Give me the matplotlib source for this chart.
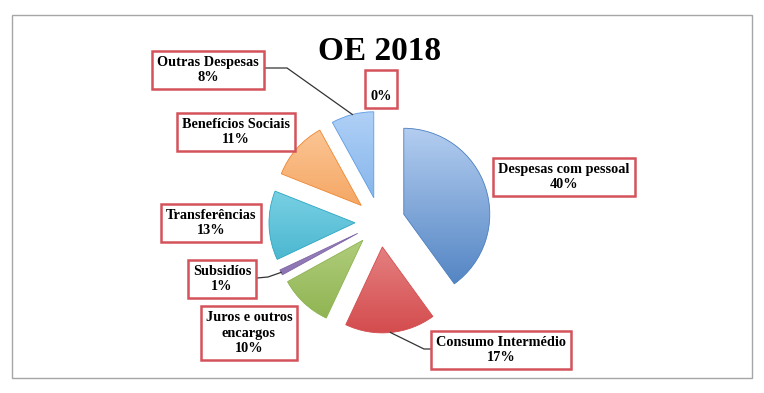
import numpy as np
import matplotlib
matplotlib.use("Agg")
import matplotlib.pyplot as plt
from matplotlib.colors import to_rgb
from matplotlib.patches import Rectangle

# data
categories = ["Despesas com pessoal", "Consumo Intermédio", "Juros e outros\nencargos",
              "Subsidíos", "Transferências", "Benefícios Sociais", "Outras Despesas", ""]
shares = [40, 17, 10, 1, 13, 11, 8, 0]

# gradient colours per slice (top, bottom)
TOP = ["#b3cdf0", "#f6b4b2", "#d4e8a8", "#b7a5d3", "#9ce3f3", "#fcc99a", "#afd0f6", "#cccccc"]
BOT = ["#4a7ebf", "#d44c4e", "#8db24f", "#7e64a6", "#2ba6c2", "#ee8630", "#5e9ce2", "#999999"]

# label box centres (pixel coords, y up)
LABEL_POS = [(564, 216), (501, 43), (249, 60), (222, 114), (211, 170), (236, 261), (208, 323), (381, 304)]
# leader elbows: slice index -> (box edge point, elbow point)
LEADERS = {6: ((263, 325), (287, 325)), 3: ((257, 115), (268, 116)), 1: ((432, 44), (424, 44))}

W, H = 764, 393
fig = plt.figure(figsize=(W / 100, H / 100), dpi=100)
ax = fig.add_axes([0, 0, 1, 1])

cx, cy, R, expl = 380, 171, 86, 25
wedges, _ = ax.pie(shares, explode=[expl] * len(shares), startangle=90, counterclock=False,
                   center=(cx, cy), radius=R, wedgeprops=dict(linewidth=0))

for i, w in enumerate(wedges):
    if shares[i] == 0:
        w.set_visible(False)
        continue
    t, b = np.array(to_rgb(TOP[i])), np.array(to_rgb(BOT[i]))
    f = np.linspace(0, 1, 200)[:, None, None]
    img = t * (1 - f) + b * f
    wx, wy = w.center
    im = ax.imshow(img, extent=[wx - w.r, wx + w.r, wy - w.r, wy + w.r], origin="upper",
                   aspect="auto", zorder=2, interpolation="bilinear")
    im.set_clip_path(w)
    w.set_facecolor("none")
    w.set_edgecolor(BOT[i])
    w.set_linewidth(0.6)
    w.set_zorder(3)

font = dict(family=["Liberation Serif", "DejaVu Serif"], fontweight="bold")
for i, (name, val) in enumerate(zip(categories, shares)):
    txt = f"{name}\n{val}%"
    ax.text(*LABEL_POS[i], txt, ha="center", va="center", fontsize=10.3, linespacing=1.22,
            zorder=5, bbox=dict(boxstyle="square,pad=0.35", facecolor="white",
                                edgecolor="#d4535a", linewidth=1.8), **font)

for i, (p0, p1) in LEADERS.items():
    w = wedges[i]
    mid = np.deg2rad((w.theta1 + w.theta2) / 2)
    ex = w.center[0] + w.r * np.cos(mid)
    ey = w.center[1] + w.r * np.sin(mid)
    ax.plot([p0[0], p1[0], ex], [p0[1], p1[1], ey], color="#333333", lw=0.9, zorder=4)

ax.text(380, 341, "OE 2018", ha="center", va="center", fontsize=24, **font)

fig.patches.append(Rectangle((12 / W, 15 / H), 740 / W, 363 / H, transform=fig.transFigure,
                             fill=False, edgecolor="#a6a6a6", linewidth=1))

ax.set_xlim(0, W)
ax.set_ylim(0, H)
ax.set_aspect("equal")
ax.axis("off")
fig.savefig("out.png", dpi=100)
